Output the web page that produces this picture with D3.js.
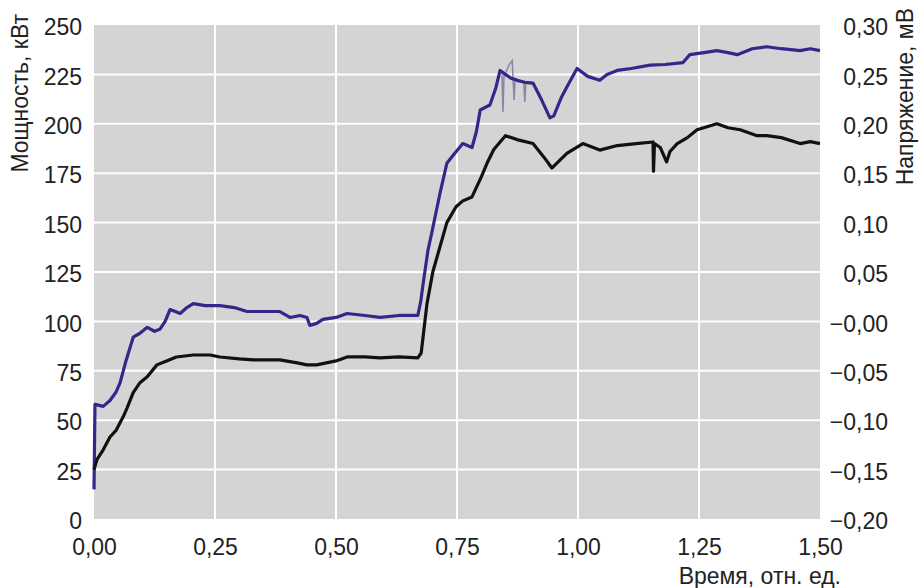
<!DOCTYPE html>
<html>
<head>
<meta charset="utf-8">
<script src="https://cdn.jsdelivr.net/npm/d3@7"></script>
<style>
  body { margin: 0; background: #fff; }
  svg text { font-family: "Liberation Sans", Arial, sans-serif; fill: #222; }
</style>
</head>
<body>
<div id="container"></div>
<script>
/* CONSTANTS AND GLOBALS */
const width = 919;
const height = 588;
const margin = { top: 25, right: 99, bottom: 69, left: 94 };

// x ticks and labels
const xTicks = [0, 0.25, 0.5, 0.75, 1.0, 1.25, 1.5];
const yTicks = [0, 25, 50, 75, 100, 125, 150, 175, 200, 225, 250];
const y2Ticks = [-0.2, -0.15, -0.1, -0.05, 0, 0.05, 0.1, 0.15, 0.2, 0.25, 0.3];
const y2Labels = ["\u22120,20", "\u22120,15", "\u22120,10", "\u22120,05", "\u22120,00",
  "0,05", "0,10", "0,15", "0,20", "0,25", "0,30"];

// blue line (мощность, верхняя кривая)
const blueTime = [0, 0.002, 0.019, 0.033, 0.045, 0.054, 0.066, 0.081, 0.095, 0.110, 0.125, 0.136,
  0.147, 0.157, 0.168, 0.178, 0.192, 0.205, 0.230, 0.260, 0.290, 0.316, 0.350, 0.384, 0.405,
  0.426, 0.440, 0.446, 0.460, 0.473, 0.500, 0.523, 0.560, 0.591, 0.630, 0.669, 0.675, 0.680,
  0.690, 0.698, 0.715, 0.729, 0.745, 0.762, 0.781, 0.790, 0.798, 0.818, 0.830, 0.839, 0.850,
  0.862, 0.874, 0.890, 0.907, 0.925, 0.942, 0.950, 0.965, 0.977, 0.998, 1.020, 1.045, 1.060,
  1.081, 1.110, 1.149, 1.180, 1.217, 1.231, 1.260, 1.287, 1.310, 1.329, 1.360, 1.390, 1.420,
  1.459, 1.480, 1.500];
const bluePower = [15, 58, 57, 60, 64, 69, 80, 92, 94, 97, 95, 96,
  100, 106, 105, 104, 107, 109, 108, 108, 107, 105, 105, 105, 102,
  103, 102, 98, 99, 101, 102, 104, 103, 102, 103, 103, 110, 119,
  136, 145, 165, 180, 185, 190, 188, 196, 207, 209.5, 218, 227, 225,
  223, 222, 221, 220.6, 212, 203, 204, 213, 218.6, 228, 224, 222, 225,
  227, 228, 229.7, 230, 231, 235, 236, 237, 236, 235, 238, 239, 238,
  237, 238, 237];

// thin spikes on the blue curve
const spikeTime = [0.843, 0.845, 0.847, 0.858, 0.864, 0.868, 0.870, 0.888, 0.890, 0.892];
const spikePower = [225, 206, 224, 230, 232, 212, 223, 221, 211, 220];

// black line (напряжение, нижняя кривая)
const blackTime = [0, 0.006, 0.019, 0.033, 0.046, 0.060, 0.068, 0.081, 0.095, 0.110, 0.130,
  0.150, 0.170, 0.205, 0.240, 0.260, 0.300, 0.330, 0.384, 0.420, 0.440, 0.460, 0.480, 0.500,
  0.523, 0.560, 0.591, 0.630, 0.669, 0.676, 0.688, 0.700, 0.729, 0.748, 0.762, 0.781, 0.800,
  0.812, 0.826, 0.850, 0.874, 0.907, 0.930, 0.946, 0.960, 0.977, 1.010, 1.045, 1.081, 1.120,
  1.155, 1.156, 1.158, 1.170, 1.183, 1.190, 1.205, 1.226, 1.246, 1.287, 1.310, 1.335, 1.370,
  1.390, 1.420, 1.459, 1.480, 1.500];
const blackPower = [25, 30, 35, 41.5, 45, 51.6, 56, 64, 69, 72, 78,
  80, 82, 83, 83, 82, 81, 80.5, 80.5, 79, 78, 78, 79, 80,
  82, 82, 81.5, 82, 81.5, 84, 109, 125, 150, 158, 161, 163, 173,
  180, 187, 194, 192, 190, 183, 177.6, 181, 185, 190, 186.7, 189, 190,
  190.8, 176, 190, 188, 180.7, 186, 190, 193, 197, 200, 198, 197, 194,
  194, 193, 190, 191, 190];

/* SVG */
const svg = d3.select("#container").append("svg")
  .attr("width", width)
  .attr("height", height);

/* SCALES */
const xScale = d3.scaleLinear()
  .domain([0, 1.5])
  .range([margin.left, width - margin.right]);

const yScale = d3.scaleLinear()
  .domain([0, 250])
  .range([height - margin.bottom, margin.top]);

const y2Scale = d3.scaleLinear()
  .domain([-0.2, 0.3])
  .range([height - margin.bottom, margin.top]);

// plot background
svg.append("rect")
  .attr("x", xScale(0))
  .attr("y", yScale(250))
  .attr("width", xScale(1.5) - xScale(0))
  .attr("height", yScale(0) - yScale(250))
  .attr("fill", "#d4d4d4");

// grid
svg.append("g")
  .selectAll("line")
  .data(xTicks.slice(1, -1))
  .join("line")
  .attr("x1", d => xScale(d))
  .attr("x2", d => xScale(d))
  .attr("y1", yScale(0))
  .attr("y2", yScale(250))
  .attr("stroke", "#fff")
  .attr("stroke-width", 2);

svg.append("g")
  .selectAll("line")
  .data(yTicks.slice(1, -1))
  .join("line")
  .attr("x1", xScale(0))
  .attr("x2", xScale(1.5))
  .attr("y1", d => yScale(d))
  .attr("y2", d => yScale(d))
  .attr("stroke", "#fff")
  .attr("stroke-width", 2);

/* AXES */
const fmt = d3.format(".2f");
const xAxis = d3.axisBottom(xScale)
  .tickValues(xTicks)
  .tickSize(0)
  .tickPadding(20)
  .tickFormat(d => fmt(d).replace(".", ","));

const yAxis = d3.axisLeft(yScale)
  .tickValues(yTicks)
  .tickSize(0)
  .tickPadding(12);

const y2Axis = d3.axisRight(y2Scale)
  .tickValues(y2Ticks)
  .tickSize(0)
  .tickPadding(0)
  .tickFormat((d, i) => y2Labels[i]);

svg.append("g")
  .attr("transform", `translate(0, ${height - margin.bottom})`)
  .call(xAxis)
  .call(g => g.select(".domain").remove())
  .selectAll("text")
  .style("font-size", "23px")
  .attr("fill", "#222");

svg.append("g")
  .attr("transform", `translate(${margin.left}, 0)`)
  .call(yAxis)
  .call(g => g.select(".domain").remove())
  .selectAll("text")
  .style("font-size", "23px")
  .attr("dy", "0.42em")
  .attr("fill", "#222");

svg.append("g")
  .attr("transform", `translate(888, 0)`)
  .call(y2Axis)
  .call(g => g.select(".domain").remove())
  .selectAll("text")
  .style("font-size", "23px")
  .attr("text-anchor", "end")
  .attr("dy", "0.42em")
  .attr("fill", "#222");

/* LINES */
const lineOf = (times, vals) => d3.line()
  .x((d, i) => xScale(times[i]))
  .y((d, i) => yScale(vals[i]))(vals);

svg.append("path")
  .attr("d", lineOf(spikeTime, spikePower))
  .attr("fill", "none")
  .attr("stroke", "#8c84a6")
  .attr("stroke-width", 1.5);

svg.append("path")
  .attr("d", lineOf(blueTime, bluePower))
  .attr("fill", "none")
  .attr("stroke", "#35268a")
  .attr("stroke-width", 3.2)
  .attr("stroke-linejoin", "round");

svg.append("path")
  .attr("d", lineOf(blackTime, blackPower))
  .attr("fill", "none")
  .attr("stroke", "#111")
  .attr("stroke-width", 3.2)
  .attr("stroke-linejoin", "round");

/* LABELS */
svg.append("text")
  .attr("text-anchor", "end")
  .attr("x", 841)
  .attr("y", 584)
  .style("font-size", "23px")
  .text("Время, отн. ед.");

svg.append("text")
  .attr("text-anchor", "end")
  .attr("transform", "translate(28, 14) rotate(-90)")
  .style("font-size", "23px")
  .text("Мощность, кВт");

svg.append("text")
  .attr("text-anchor", "end")
  .attr("transform", "translate(913, 8) rotate(-90)")
  .style("font-size", "23px")
  .text("Напряжение, мВ");
</script>
</body>
</html>
